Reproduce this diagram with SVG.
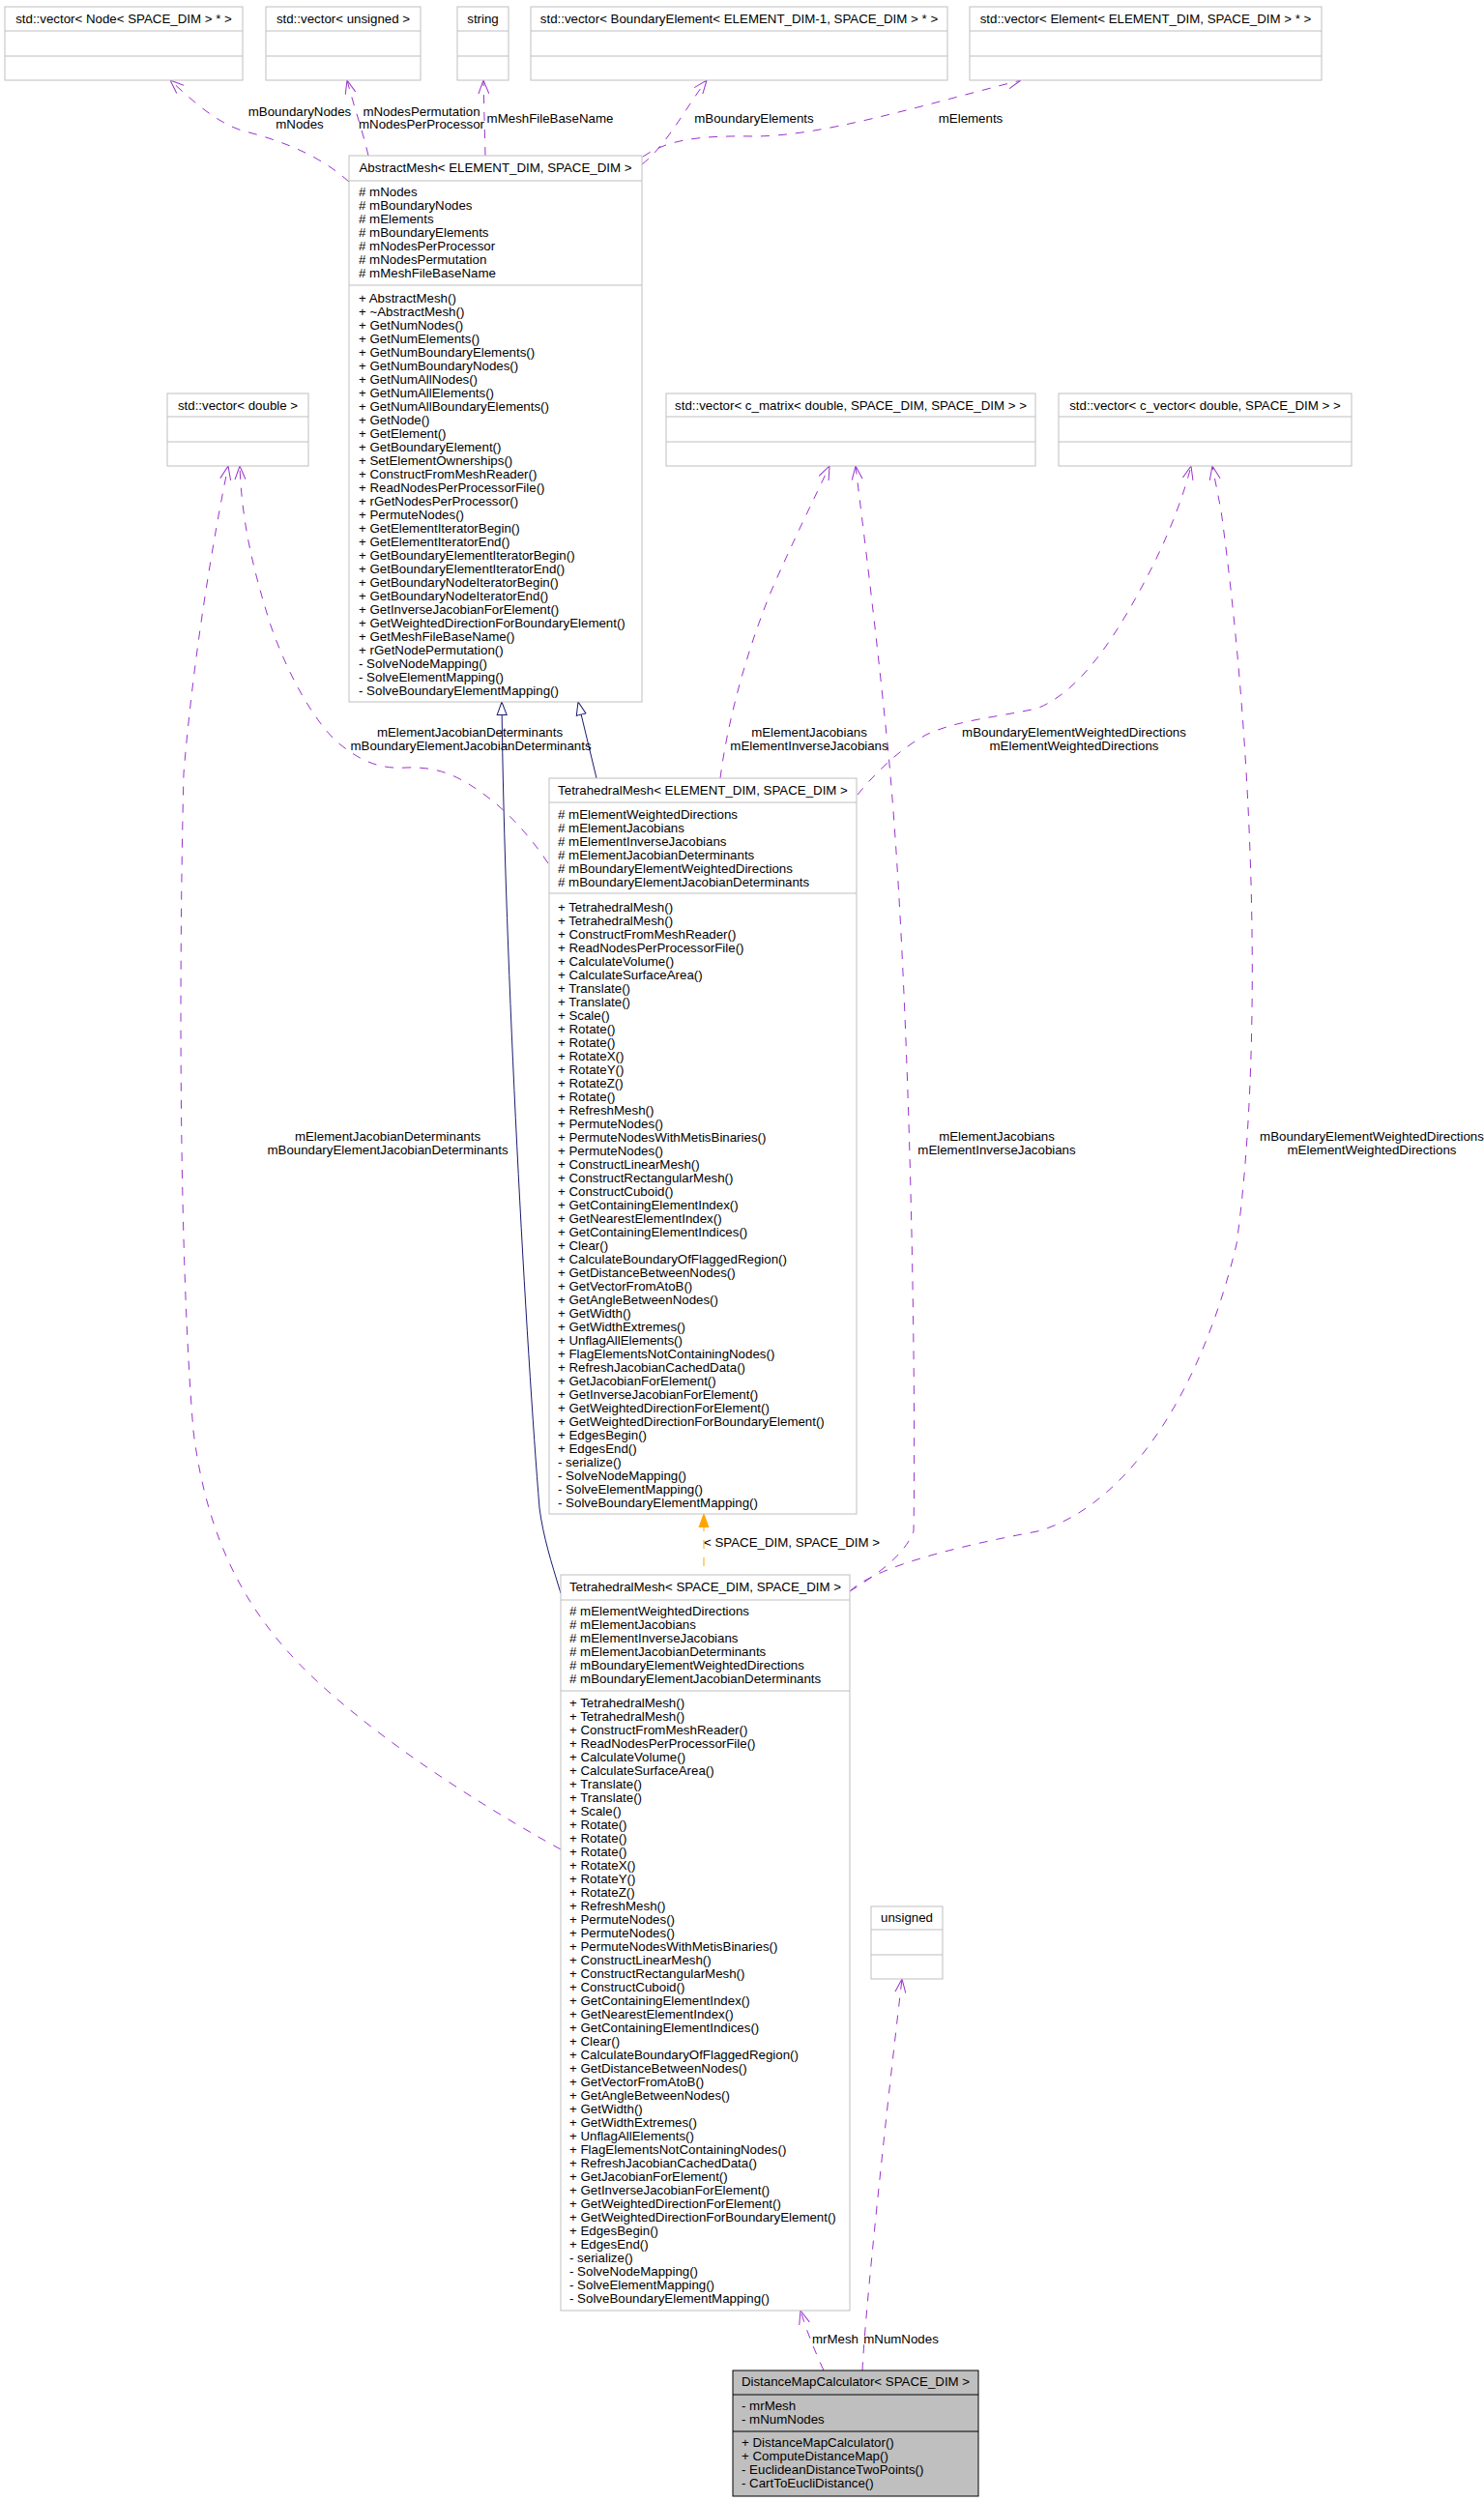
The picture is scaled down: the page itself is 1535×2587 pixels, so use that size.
<svg xmlns="http://www.w3.org/2000/svg" width="1535" height="2587" viewBox="0 0 1535 2587">
<style>
.box{fill:#fff;stroke:#bfbfbf;stroke-width:1}
.dbox{fill:#bfbfbf;stroke:#000;stroke-width:1}
.sep{stroke:#bfbfbf;stroke-width:1}
.dsep{stroke:#000;stroke-width:1}
text{font-family:"Liberation Sans",Arial,Helvetica,sans-serif;font-size:13.3px;fill:#000}
.c{text-anchor:middle}
.u{fill:none;stroke:#9a32cd;stroke-width:1;stroke-dasharray:9,9;marker-end:url(#open)}
.g{fill:none;stroke:#191970;stroke-width:1;marker-end:url(#tri)}
.o{fill:none;stroke:#ffa500;stroke-width:1;stroke-dasharray:9,9;marker-end:url(#fil)}
</style>
<defs>
<marker id="open" viewBox="0 0 14 12" refX="14" refY="6" markerWidth="14" markerHeight="12" markerUnits="userSpaceOnUse" orient="auto">
<path d="M0,0.5 L14,6 L0,11.5" fill="none" stroke="#9a32cd" stroke-width="1"/>
</marker>
<marker id="tri" viewBox="0 0 15 12" refX="14" refY="6" markerWidth="15" markerHeight="12" markerUnits="userSpaceOnUse" orient="auto">
<path d="M0.5,1 L14,6 L0.5,11 Z" fill="#fff" stroke="#191970" stroke-width="1"/>
</marker>
<marker id="fil" viewBox="0 0 14 12" refX="14" refY="6" markerWidth="14" markerHeight="12" markerUnits="userSpaceOnUse" orient="auto">
<path d="M0,1 L14,6 L0,11 Z" fill="#ffa500" stroke="#ffa500" stroke-width="1"/>
</marker>
</defs>
<rect width="1535" height="2587" fill="#fff"/>

<g id="edges">
<path class="u" d="M361,188 C330,160 290,145 250,135 C220,125 195,100 176,83"/>
<path class="u" d="M381,161 C375,135 366,110 359,83"/>
<path class="u" d="M502,161 L500,83"/>
<path class="u" d="M664,170 C690,150 710,110 731,83"/>
<path class="u" d="M665,162 C690,145 720,140 780,141 C850,141 950,110 1056,83"/>
<path class="g" d="M617,805 L598,726"/>
<path class="g" d="M580,1648 C570,1615 562,1590 558,1560 C545,1400 522,1000 519,726"/>
<path class="u" d="M567,893 C545,860 520,835 497,819 C470,800 450,793 420,794 C390,796 370,785 348,767 C320,740 295,690 280,647 C262,590 250,540 248,482"/>
<path class="u" d="M580,1913 C520,1880 420,1820 340,1750 C260,1680 215,1600 200,1480 C185,1300 185,1000 190,800 C200,680 220,560 236,482"/>
<path class="u" d="M745,805 C752,750 770,680 797,613 C820,560 845,510 858,482"/>
<path class="u" d="M879,1646 C905,1630 935,1610 945,1584 C948,1400 940,1000 919,780 C905,640 892,540 885,482"/>
<path class="u" d="M887,822 C905,800 930,775 958,760 C990,745 1030,742 1072,733 C1120,715 1160,650 1195,580 C1212,545 1225,510 1232,482"/>
<path class="u" d="M879,1646 C900,1626 960,1605 1073,1584 C1160,1560 1240,1450 1279,1287 C1305,1100 1300,800 1263,528 L1254,482"/>
<path class="o" d="M728,1620 L728,1566"/>
<path class="u" d="M852,2452 C842,2430 834,2410 828,2390"/>
<path class="u" d="M892,2452 C895,2390 915,2200 933,2047"/>
<text x="310" y="120" class="c">mBoundaryNodes</text>
<text x="310" y="133" class="c">mNodes</text>
<text x="436" y="120" class="c">mNodesPermutation</text>
<text x="436" y="133" class="c">mNodesPerProcessor</text>
<text x="569" y="127" class="c">mMeshFileBaseName</text>
<text x="780" y="127" class="c">mBoundaryElements</text>
<text x="1004" y="127" class="c">mElements</text>
<text x="486" y="762" class="c">mElementJacobianDeterminants</text>
<text x="487" y="776" class="c">mBoundaryElementJacobianDeterminants</text>
<text x="837" y="762" class="c">mElementJacobians</text>
<text x="837" y="776" class="c">mElementInverseJacobians</text>
<text x="1111" y="762" class="c">mBoundaryElementWeightedDirections</text>
<text x="1111" y="776" class="c">mElementWeightedDirections</text>
<text x="401" y="1180" class="c">mElementJacobianDeterminants</text>
<text x="401" y="1194" class="c">mBoundaryElementJacobianDeterminants</text>
<text x="1031" y="1180" class="c">mElementJacobians</text>
<text x="1031" y="1194" class="c">mElementInverseJacobians</text>
<text x="1419" y="1180" class="c">mBoundaryElementWeightedDirections</text>
<text x="1419" y="1194" class="c">mElementWeightedDirections</text>
<text x="728" y="1600">&lt; SPACE_DIM, SPACE_DIM &gt;</text>
<text x="864" y="2424" class="c">mrMesh</text>
<text x="932" y="2424" class="c">mNumNodes</text>
</g>

<g id="vecNode">
<rect class="box" x="5" y="7" width="246" height="76"/>
<line class="sep" x1="5" y1="32" x2="251" y2="32"/><line class="sep" x1="5" y1="58" x2="251" y2="58"/>
<text x="128" y="24" class="c">std::vector&lt; Node&lt; SPACE_DIM &gt; * &gt;</text>
</g>
<g id="vecUnsigned">
<rect class="box" x="275" y="7" width="160" height="76"/>
<line class="sep" x1="275" y1="32" x2="435" y2="32"/><line class="sep" x1="275" y1="58" x2="435" y2="58"/>
<text x="355" y="24" class="c">std::vector&lt; unsigned &gt;</text>
</g>
<g id="string">
<rect class="box" x="473" y="7" width="53" height="76"/>
<line class="sep" x1="473" y1="32" x2="526" y2="32"/><line class="sep" x1="473" y1="58" x2="526" y2="58"/>
<text x="499.5" y="24" class="c">string</text>
</g>
<g id="vecBoundaryElement">
<rect class="box" x="549" y="7" width="431" height="76"/>
<line class="sep" x1="549" y1="32" x2="980" y2="32"/><line class="sep" x1="549" y1="58" x2="980" y2="58"/>
<text x="764.5" y="24" class="c">std::vector&lt; BoundaryElement&lt; ELEMENT_DIM-1, SPACE_DIM &gt; * &gt;</text>
</g>
<g id="vecElement">
<rect class="box" x="1003" y="7" width="364" height="76"/>
<line class="sep" x1="1003" y1="32" x2="1367" y2="32"/><line class="sep" x1="1003" y1="58" x2="1367" y2="58"/>
<text x="1185" y="24" class="c">std::vector&lt; Element&lt; ELEMENT_DIM, SPACE_DIM &gt; * &gt;</text>
</g>
<g id="vecDouble">
<rect class="box" x="173" y="407" width="146" height="75"/>
<line class="sep" x1="173" y1="431" x2="319" y2="431"/><line class="sep" x1="173" y1="457" x2="319" y2="457"/>
<text x="246" y="424" class="c">std::vector&lt; double &gt;</text>
</g>
<g id="vecMatrix">
<rect class="box" x="689" y="407" width="382" height="75"/>
<line class="sep" x1="689" y1="431" x2="1071" y2="431"/><line class="sep" x1="689" y1="457" x2="1071" y2="457"/>
<text x="880" y="424" class="c">std::vector&lt; c_matrix&lt; double, SPACE_DIM, SPACE_DIM &gt; &gt;</text>
</g>
<g id="vecVector">
<rect class="box" x="1095" y="407" width="303" height="75"/>
<line class="sep" x1="1095" y1="431" x2="1398" y2="431"/><line class="sep" x1="1095" y1="457" x2="1398" y2="457"/>
<text x="1246.5" y="424" class="c">std::vector&lt; c_vector&lt; double, SPACE_DIM &gt; &gt;</text>
</g>
<g id="unsigned">
<rect class="box" x="901" y="1972" width="74" height="75"/>
<line class="sep" x1="901" y1="1996" x2="975" y2="1996"/><line class="sep" x1="901" y1="2022" x2="975" y2="2022"/>
<text x="938" y="1988" class="c">unsigned</text>
</g>

<g id="abstractMesh">
<rect class="box" x="361" y="161" width="303" height="565"/>
<line class="sep" x1="361" y1="187" x2="664" y2="187"/><line class="sep" x1="361" y1="295" x2="664" y2="295"/>
<text x="512.5" y="178" class="c">AbstractMesh&lt; ELEMENT_DIM, SPACE_DIM &gt;</text>
<text x="371" y="203"><tspan x="371">#  mNodes</tspan><tspan x="371" dy="14">#  mBoundaryNodes</tspan><tspan x="371" dy="14">#  mElements</tspan><tspan x="371" dy="14">#  mBoundaryElements</tspan><tspan x="371" dy="14">#  mNodesPerProcessor</tspan><tspan x="371" dy="14">#  mNodesPermutation</tspan><tspan x="371" dy="14">#  mMeshFileBaseName</tspan></text>
<text x="371" y="313"><tspan x="371">+  AbstractMesh()</tspan><tspan x="371" dy="14">+  ~AbstractMesh()</tspan><tspan x="371" dy="14">+  GetNumNodes()</tspan><tspan x="371" dy="14">+  GetNumElements()</tspan><tspan x="371" dy="14">+  GetNumBoundaryElements()</tspan><tspan x="371" dy="14">+  GetNumBoundaryNodes()</tspan><tspan x="371" dy="14">+  GetNumAllNodes()</tspan><tspan x="371" dy="14">+  GetNumAllElements()</tspan><tspan x="371" dy="14">+  GetNumAllBoundaryElements()</tspan><tspan x="371" dy="14">+  GetNode()</tspan><tspan x="371" dy="14">+  GetElement()</tspan><tspan x="371" dy="14">+  GetBoundaryElement()</tspan><tspan x="371" dy="14">+  SetElementOwnerships()</tspan><tspan x="371" dy="14">+  ConstructFromMeshReader()</tspan><tspan x="371" dy="14">+  ReadNodesPerProcessorFile()</tspan><tspan x="371" dy="14">+  rGetNodesPerProcessor()</tspan><tspan x="371" dy="14">+  PermuteNodes()</tspan><tspan x="371" dy="14">+  GetElementIteratorBegin()</tspan><tspan x="371" dy="14">+  GetElementIteratorEnd()</tspan><tspan x="371" dy="14">+  GetBoundaryElementIteratorBegin()</tspan><tspan x="371" dy="14">+  GetBoundaryElementIteratorEnd()</tspan><tspan x="371" dy="14">+  GetBoundaryNodeIteratorBegin()</tspan><tspan x="371" dy="14">+  GetBoundaryNodeIteratorEnd()</tspan><tspan x="371" dy="14">+  GetInverseJacobianForElement()</tspan><tspan x="371" dy="14">+  GetWeightedDirectionForBoundaryElement()</tspan><tspan x="371" dy="14">+  GetMeshFileBaseName()</tspan><tspan x="371" dy="14">+  rGetNodePermutation()</tspan><tspan x="371" dy="14">-  SolveNodeMapping()</tspan><tspan x="371" dy="14">-  SolveElementMapping()</tspan><tspan x="371" dy="14">-  SolveBoundaryElementMapping()</tspan></text>
</g>

<g id="tetMeshED">
<rect class="box" x="568" y="805" width="318" height="761"/>
<line class="sep" x1="568" y1="830" x2="886" y2="830"/><line class="sep" x1="568" y1="924" x2="886" y2="924"/>
<text x="727" y="822" class="c">TetrahedralMesh&lt; ELEMENT_DIM, SPACE_DIM &gt;</text>
<text x="577" y="847"><tspan x="577">#  mElementWeightedDirections</tspan><tspan x="577" dy="14">#  mElementJacobians</tspan><tspan x="577" dy="14">#  mElementInverseJacobians</tspan><tspan x="577" dy="14">#  mElementJacobianDeterminants</tspan><tspan x="577" dy="14">#  mBoundaryElementWeightedDirections</tspan><tspan x="577" dy="14">#  mBoundaryElementJacobianDeterminants</tspan></text>
<text x="577" y="943"><tspan x="577">+  TetrahedralMesh()</tspan><tspan x="577" dy="14">+  TetrahedralMesh()</tspan><tspan x="577" dy="14">+  ConstructFromMeshReader()</tspan><tspan x="577" dy="14">+  ReadNodesPerProcessorFile()</tspan><tspan x="577" dy="14">+  CalculateVolume()</tspan><tspan x="577" dy="14">+  CalculateSurfaceArea()</tspan><tspan x="577" dy="14">+  Translate()</tspan><tspan x="577" dy="14">+  Translate()</tspan><tspan x="577" dy="14">+  Scale()</tspan><tspan x="577" dy="14">+  Rotate()</tspan><tspan x="577" dy="14">+  Rotate()</tspan><tspan x="577" dy="14">+  RotateX()</tspan><tspan x="577" dy="14">+  RotateY()</tspan><tspan x="577" dy="14">+  RotateZ()</tspan><tspan x="577" dy="14">+  Rotate()</tspan><tspan x="577" dy="14">+  RefreshMesh()</tspan><tspan x="577" dy="14">+  PermuteNodes()</tspan><tspan x="577" dy="14">+  PermuteNodesWithMetisBinaries()</tspan><tspan x="577" dy="14">+  PermuteNodes()</tspan><tspan x="577" dy="14">+  ConstructLinearMesh()</tspan><tspan x="577" dy="14">+  ConstructRectangularMesh()</tspan><tspan x="577" dy="14">+  ConstructCuboid()</tspan><tspan x="577" dy="14">+  GetContainingElementIndex()</tspan><tspan x="577" dy="14">+  GetNearestElementIndex()</tspan><tspan x="577" dy="14">+  GetContainingElementIndices()</tspan><tspan x="577" dy="14">+  Clear()</tspan><tspan x="577" dy="14">+  CalculateBoundaryOfFlaggedRegion()</tspan><tspan x="577" dy="14">+  GetDistanceBetweenNodes()</tspan><tspan x="577" dy="14">+  GetVectorFromAtoB()</tspan><tspan x="577" dy="14">+  GetAngleBetweenNodes()</tspan><tspan x="577" dy="14">+  GetWidth()</tspan><tspan x="577" dy="14">+  GetWidthExtremes()</tspan><tspan x="577" dy="14">+  UnflagAllElements()</tspan><tspan x="577" dy="14">+  FlagElementsNotContainingNodes()</tspan><tspan x="577" dy="14">+  RefreshJacobianCachedData()</tspan><tspan x="577" dy="14">+  GetJacobianForElement()</tspan><tspan x="577" dy="14">+  GetInverseJacobianForElement()</tspan><tspan x="577" dy="14">+  GetWeightedDirectionForElement()</tspan><tspan x="577" dy="14">+  GetWeightedDirectionForBoundaryElement()</tspan><tspan x="577" dy="14">+  EdgesBegin()</tspan><tspan x="577" dy="14">+  EdgesEnd()</tspan><tspan x="577" dy="14">-  serialize()</tspan><tspan x="577" dy="14">-  SolveNodeMapping()</tspan><tspan x="577" dy="14">-  SolveElementMapping()</tspan><tspan x="577" dy="14">-  SolveBoundaryElementMapping()</tspan></text>
</g>

<g id="tetMeshSS">
<rect class="box" x="580" y="1629" width="299" height="761"/>
<line class="sep" x1="580" y1="1655" x2="879" y2="1655"/><line class="sep" x1="580" y1="1749" x2="879" y2="1749"/>
<text x="729.5" y="1646" class="c">TetrahedralMesh&lt; SPACE_DIM, SPACE_DIM &gt;</text>
<text x="589" y="1671"><tspan x="589">#  mElementWeightedDirections</tspan><tspan x="589" dy="14">#  mElementJacobians</tspan><tspan x="589" dy="14">#  mElementInverseJacobians</tspan><tspan x="589" dy="14">#  mElementJacobianDeterminants</tspan><tspan x="589" dy="14">#  mBoundaryElementWeightedDirections</tspan><tspan x="589" dy="14">#  mBoundaryElementJacobianDeterminants</tspan></text>
<text x="589" y="1766"><tspan x="589">+  TetrahedralMesh()</tspan><tspan x="589" dy="14">+  TetrahedralMesh()</tspan><tspan x="589" dy="14">+  ConstructFromMeshReader()</tspan><tspan x="589" dy="14">+  ReadNodesPerProcessorFile()</tspan><tspan x="589" dy="14">+  CalculateVolume()</tspan><tspan x="589" dy="14">+  CalculateSurfaceArea()</tspan><tspan x="589" dy="14">+  Translate()</tspan><tspan x="589" dy="14">+  Translate()</tspan><tspan x="589" dy="14">+  Scale()</tspan><tspan x="589" dy="14">+  Rotate()</tspan><tspan x="589" dy="14">+  Rotate()</tspan><tspan x="589" dy="14">+  Rotate()</tspan><tspan x="589" dy="14">+  RotateX()</tspan><tspan x="589" dy="14">+  RotateY()</tspan><tspan x="589" dy="14">+  RotateZ()</tspan><tspan x="589" dy="14">+  RefreshMesh()</tspan><tspan x="589" dy="14">+  PermuteNodes()</tspan><tspan x="589" dy="14">+  PermuteNodes()</tspan><tspan x="589" dy="14">+  PermuteNodesWithMetisBinaries()</tspan><tspan x="589" dy="14">+  ConstructLinearMesh()</tspan><tspan x="589" dy="14">+  ConstructRectangularMesh()</tspan><tspan x="589" dy="14">+  ConstructCuboid()</tspan><tspan x="589" dy="14">+  GetContainingElementIndex()</tspan><tspan x="589" dy="14">+  GetNearestElementIndex()</tspan><tspan x="589" dy="14">+  GetContainingElementIndices()</tspan><tspan x="589" dy="14">+  Clear()</tspan><tspan x="589" dy="14">+  CalculateBoundaryOfFlaggedRegion()</tspan><tspan x="589" dy="14">+  GetDistanceBetweenNodes()</tspan><tspan x="589" dy="14">+  GetVectorFromAtoB()</tspan><tspan x="589" dy="14">+  GetAngleBetweenNodes()</tspan><tspan x="589" dy="14">+  GetWidth()</tspan><tspan x="589" dy="14">+  GetWidthExtremes()</tspan><tspan x="589" dy="14">+  UnflagAllElements()</tspan><tspan x="589" dy="14">+  FlagElementsNotContainingNodes()</tspan><tspan x="589" dy="14">+  RefreshJacobianCachedData()</tspan><tspan x="589" dy="14">+  GetJacobianForElement()</tspan><tspan x="589" dy="14">+  GetInverseJacobianForElement()</tspan><tspan x="589" dy="14">+  GetWeightedDirectionForElement()</tspan><tspan x="589" dy="14">+  GetWeightedDirectionForBoundaryElement()</tspan><tspan x="589" dy="14">+  EdgesBegin()</tspan><tspan x="589" dy="14">+  EdgesEnd()</tspan><tspan x="589" dy="14">-  serialize()</tspan><tspan x="589" dy="14">-  SolveNodeMapping()</tspan><tspan x="589" dy="14">-  SolveElementMapping()</tspan><tspan x="589" dy="14">-  SolveBoundaryElementMapping()</tspan></text>
</g>

<g id="distanceMapCalculator">
<rect class="dbox" x="758" y="2452" width="254" height="130"/>
<line class="dsep" x1="758" y1="2477" x2="1012" y2="2477"/><line class="dsep" x1="758" y1="2515" x2="1012" y2="2515"/>
<text x="885" y="2468" class="c">DistanceMapCalculator&lt; SPACE_DIM &gt;</text>
<text x="767" y="2493"><tspan x="767">-  mrMesh</tspan><tspan x="767" dy="14">-  mNumNodes</tspan></text>
<text x="767" y="2531"><tspan x="767">+  DistanceMapCalculator()</tspan><tspan x="767" dy="14">+  ComputeDistanceMap()</tspan><tspan x="767" dy="14">-  EuclideanDistanceTwoPoints()</tspan><tspan x="767" dy="14">-  CartToEucliDistance()</tspan></text>
</g>
</svg>
